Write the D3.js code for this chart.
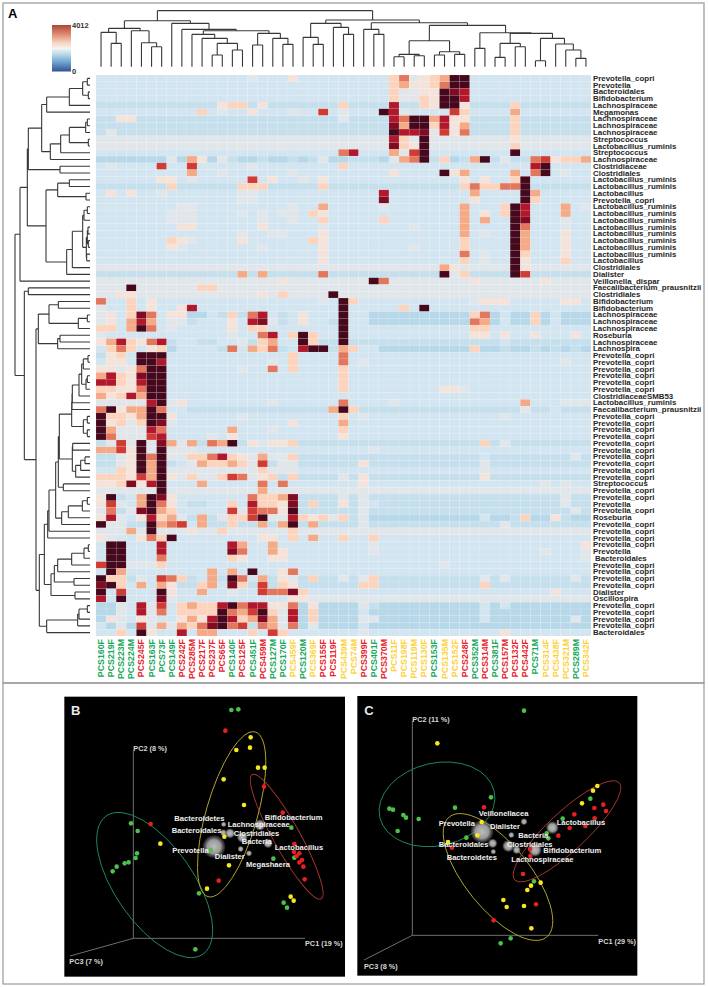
<!DOCTYPE html>
<html>
<head>
<meta charset="utf-8">
<script src="https://cdnjs.cloudflare.com/ajax/libs/d3/7.8.5/d3.min.js"></script>
<style>
  body { margin: 0; background: #fff; }
  text { font-family: "Liberation Sans", Arial, sans-serif; }
</style>
</head>
<body>
<div id="figure"></div>
<script>
// ---- heatmap data ----
const colNames = ["PCS160F","PCS219F","PCS223M","PCS224M","PCS245F","PCS163F","PCS73F","PCS149F","PCS242F","PCS285M","PCS217F","PCS237F","PCS65F","PCS140F","PCS125F","PCS451F","PCS459M","PCS127M","PCS170F","PCS459F","PCS120M","PCS369F","PCS155F","PCS119F","PCS439M","PCS74M","PCS399F","PCS401F","PCS370M","PCS11F","PCS198F","PCS119M","PCS130F","PCS153F","PCS135M","PCS152F","PCS248F","PCS352M","PCS314M","PCS381F","PCS157M","PCS132F","PCS442F","PCS71M","PCS314F","PCS438F","PCS321M","PCS289M","PCS342F"];
const colGroups = ["g","g","g","g","r","g","g","g","r","r","r","r","r","g","r","g","r","g","g","y","g","y","r","r","y","y","r","g","r","y","y","y","y","g","y","y","r","g","r","g","r","r","r","g","y","y","y","g","y"];
const groupColors = {g: "#18a85c", r: "#e8222c", y: "#fdd23c"};

const rowLabels = ["Prevotella_copri","Prevotella","Bacteroidales","Bifidobacterium","Lachnospiraceae","Megamonas","Lachnospiraceae","Lachnospiraceae","Lachnospiraceae","Streptococcus","Lactobacillus_ruminis","Streptococcus","Lachnospiraceae","Clostridiaceae","Clostridiales","Lactobacillus_ruminis","Lactobacillus_ruminis","Lactobacillus","Prevotella_copri","Lactobacillus_ruminis","Lactobacillus_ruminis","Lactobacillus_ruminis","Lactobacillus_ruminis","Lactobacillus_ruminis","Lactobacillus_ruminis","Lactobacillus_ruminis","Lactobacillus_ruminis","Lactobacillus","Clostridiales","Dialister","Veillonella_dispar","Faecalibacterium_prausnitzii","Clostridiales","Bifidobacterium","Bifidobacterium","Lachnospiraceae","Lachnospiraceae","Lachnospiraceae","Roseburia","Lachnospiraceae","Lachnospira","Prevotella_copri","Prevotella_copri","Prevotella_copri","Prevotella_copri","Prevotella_copri","Prevotella_copri","ClostridiaceaeSMB53","Lactobacillus_ruminis","Faecalibacterium_prausnitzii","Prevotella_copri","Prevotella_copri","Prevotella_copri","Prevotella_copri","Prevotella_copri","Prevotella_copri","Prevotella_copri","Prevotella_copri","Prevotella_copri","Prevotella_copri","Streptococcus","Prevotella_copri","Prevotella_copri","Prevotella","Prevotella_copri","Roseburia","Prevotella_copri","Prevotella_copri","Prevotella_copri","Prevotella_copri","Prevotella","Bacteroidales","Prevotella_copri","Prevotella_copri","Prevotella_copri","Prevotella_copri","Dialister","Oscillospira","Prevotella_copri","Prevotella_copri","Prevotella_copri","Prevotella_copri","Bacteroidales"];

const levelNames  = "abcdefghijkl".split("");
const levelValues = [1050, 1200, 1350, 1600, 1850, 2100, 2450, 2800, 3100, 3400, 3700, 4012];
const levelColors = ["#b7d8e9","#c6dfec","#d2e5f0","#e0e6ea","#f4e3da","#fcd4bd","#f5aa87","#e3775e","#d03c34","#b2182b","#7f0c22","#45081c"];

// one row per taxon: base level, then the columns that differ from it
const heatRows = [
"c 15d 19e 29f 30h 31d 32e 33f 34g 35l 36l",
"c 29f 30g 31e 32e 33f 34h 35l 36l",
"c 29f 30d 31d 32e 33e 34l 35k 36j",
"c 29f 30d 31d 32f 33e 34l 35l 36j",
"b 12e 13f 14f 16e 24f 29j 32f 33e 34l 35l 36e 41f",
"c 10f 12d 15e 19d 22i 24d 28l 29j 30d 35i 36f 41g",
"b 2e 3e 24d 29j 30h 31l 32l 33g 34j 35e 36e 41f",
"b 29k 30g 31l 32l 33f 34j 35e 36g 41f",
"b 1d 29l 30j 31j 32k 33d 34i 35e 36h 41f",
"d 29j 30f 32l 41e",
"d 29k 30f 31e 32l 41f",
"c 24h 25j 29g 30d 31i 32l 41l",
"b 0-6a 7d 8a 9g 10e 11a 12d 14a 15a 17a 18a 20a 22d 23a 24a 28a 29d 30g 31h 32l 34f 35a 37g 38l 40d 43h 44i 45e 46f 47f 48g",
"c 1d 6i 9i 15d 24f 43j 44l",
"c 9g 12d 19d 29e 34l 35e 36g 41g 43h 44l 46d",
"c 6e 7e 9d 15i 17e 20d 22e 36e 38e 41f 42l",
"b 7f 14f 15f 16f 22f 36f 37h 38f 39f 40h 41h 42l",
"c 1e 3e 6d 14d 15d 28j 37g 42l 43g",
"c 14d 15d 28k 37e 42l 43f",
"c 8d 9d 19d 22g 28d 36g 40f 41l 42j 46g 48d",
"c 7-9d 14d 16d 18d 19d 21f 22e 36g 38e 40f 41l 42j 46g",
"c 7-9d 16d 19d 22f 28f 36g 38g 41l 42k 46d",
"c 8e 9e 16e 22d 31d 36g 41l 42h 46d",
"c 14d 17d 18d 22e 36g 38d 41l 42g 46e",
"c 7f 8e 9d 14e 21f 22e 36f 41l 42g 46e",
"c 7e 8d 16d 22e 31d 36f 41l 42g 46e",
"c 22e 36h 38d 41l 42f 46e",
"c 22e 36f 38d 41l 42e 46f",
"d 34g 35e 41l 42e",
"b 14g 16g 22h 34l 35d 36f 41l 42i",
"d 18e 27l 28h 37e 44e",
"d 3l 10f 11f",
"d 2e 3e 16e 18f 23l",
"c 0h 3f 5e 22d 24l 25f 37d 38e 39e 40e 46e 47e",
"c 0d 3f 5e 8e 9j 24l 30f 32l",
"c 0d 1e 3f 4k 5h 7e 8e 9a 10a 12b 13f 14b 15h 16j 18b 20e 24l 27-36a 37f 38h 39a 41a 42a 43f 44a 46a 47a 48a",
"c 0d 1e 3g 4j 5g 7d 8d 9b 13e 15j 16k 17d 18b 20e 23b 24l 27-36a 37h 38g 39a 41a 42a 43f 44a 46a 47a 48a",
"c 0f 1f 3g 4l 5h 7d 13e 15f 16f 24l 37f 38f",
"c 0d 13d 16h 17j 19f 20l 21f 24l 37e 38e 40e 43e 47e",
"b 0e 1g 2j 3f 4e 5h 6j 8c 9c 12c 13c 14d 16f 17g 18c 19c 20l 21f 24l 40c",
"b 0c 1f 2h 3f 4c 5e 6f 7a 8-11c 13h 14c 15g 16f 17h 19c 20j 21l 22l 24g 25f 26c 27c 28-36a 37f 38a 39a 41a 42a 44a 46a 48a",
"c 0b 1e 2f 4l 5l 6l 19f 24h",
"c 1e 2e 4l 5l 6j 17d 19f 24h 26d 46d",
"c 0e 1e 2d 3e 4h 5l 6l 14d 17h 19f 24f",
"c 0g 1j 2f 3e 4k 5l 6l 24f",
"c 0j 1j 2f 3e 4j 5l 6l 24f",
"c 0f 1f 2e 3e 4h 5l 6l 24f 34e 35e 36d",
"c 0g 1e 2f 3j 4g 5l 6l",
"c 0d 1d 2d 3d 4d 5j 6l 7d 8e 17d 24h 29d 42g 46d 47d 48d",
"b 0h 1l 2e 3g 4g 5l 6h 7c 8c 23g 24l 25f 42d 45c",
"c 0l 1f 2f 3e 4g 5l 6l 7e 14d 24f 26d 40d",
"c 0l 1e 2f 3d 4f 5l 6k 7d 19e 24g",
"c 0l 1g 2d 3d 4d 5j 6h 13g 17d 24f",
"c 0l 1h 2d 3d 4d 5i 6j 11d 13e 24e",
"b 1d 2i 3d 4l 5d 6k 7g 8d 9g 11h 12g 13l 15e 16d 17e 18e 19f 38f 40d",
"c 0g 1g 2i 3e 4l 5d 6l 7-9d 27d",
"b 2d 3e 4l 5h 6l 7d 8d 9f 10f 11h 12j 13f 14e 15d 16g 17d 18d 19f 38c 47d",
"b 2d 3e 4l 5g 6l 8c 9d 10g 11f 12f 13g 14f 15d 16i 18d 19d 26e 38d",
"c 2f 3e 4l 5g 6l 7-15d 16f 17d 18d 19d 38d",
"b 0f 1f 2f 3e 4i 5g 6l 7e 8d 9f 10d 11d 12f 13i 14h 15d 16e 17f 19f 24d 26e 38e",
"c 0e 1e 2f 3k 4e 5j 6l 10g 16h 18h 26e 44d 46d",
"d 6l 16g",
"b 0e 1l 3c 4g 5l 6k 7e 8-14c 15h 16f 17f 18g 19k 24d 26d 46d",
"b 0e 1i 2d 3c 4g 5l 6h 7e 8c 11c 12c 13f 14c 15j 16f 17f 18e 19k 21f 24e 26d 27c 46d",
"b 0d 1h 3d 4k 5l 6g 7f 8-12c 13i 14d 15i 16h 17h 18e 19l 26d 47d",
"a 0e 1j 2d 3c 4e 5j 6f 7g 8d 9b 10g 11b 12d 13f 14f 15i 16l 17d 18d 19j 20f 21e 22f 23d 24f 25b 26d 38c 41b 42f 45e 46b",
"b 0l 1d 2d 5l 6g 7h 8i 9c 10g 13f 16g 18g 19l 21g 26d 40d",
"d 3g 5l 9e 12f 19f",
"c 0e 1d 4e 5h 6f 7l 16e 17e 19f 21g 24f 27f",
"c 1l 2l 6j 13j 14g 17g 27d 48e",
"c 1l 2l 6j 13k 14h 17g 18e 27d 44d 48d",
"c 1l 2l 6h 13f 14e 17e 18e 48d",
"c 0i 1l 2l 3d 4d 5d 6f 34d",
"c 1l 2g 11g 13g 15l 18e 19h",
"b 0l 1f 2f 4d 5c 6i 7h 8f 10c 11g 13l 14h 15c 16g 18e 19d 21f 24d 26d 27f 38d 40d 47d",
"b 0k 1l 2f 3c 4g 5c 6g 7e 10f 11g 12c 13k 14f 16i 18f 19e 26f 27f 38f",
"c 0l 2i 6l 7e 10g 13d 16i 17h 18h 19k 20f 45e",
"d 0j 1c 2l 3-5c 6k 8-18c 19e 20e",
"a 2d 3c 4j 5d 6i 7c 8f 9g 10f 11f 12j 13l 14h 15j 16j 17e 18e 19h 21e 26d 27b 38c 40c",
"a 2d 3c 4j 5d 6h 7c 8f 9f 10f 11f 12l 13h 14g 15i 16l 17f 18d 19j 21f 26c 38c",
"a 1e 2d 3c 4e 5d 6c 7c 8e 9g 10e 11j 12l 13j 14f 15g 16k 17g 18d 19j 21f 26d 27d 38c 47d",
"a 0c 2d 4i 5d 6g 7d 8g 9f 10h 11k 12l 13h 14i 15b 16h 17g 18d 19h 21d 26c",
"c 2f 4l 5e 8j 10g 11g 15f 17i 18f 26d 40e"
];

// dendrograms as nested [height, left, right], 0 is a leaf
const colTree = [168,
  [138,
    [115, [103, 0, [70, 0, 0]], [108, 0, [72, 0, [60, 0, 0]]]],
    [130, 0, [112, 0, [108,
      [97, 0, [85, 0, [70, [35, 0, 0], [50, 0, 0]]]],
      [100, [65, 0, 0], [85, 0, [67, 0, 0]]]]]]],
  [140,
    [130, [88, 0, [67, 0, 0]], [118, 0, [97, 0, 0]]],
    [132,
      [112, 0, [97, 0, 0]],
      [124,
        [78, [37, [30, 0, 0], [33, 0, 0]], [45, [35, 0, 0], [37, 0, 0]]],
        [102, [55, 0, 0],
          [100, [70, [28, 0, 0], [60, 0, 0]],
            [85, [18, 0, 0], [68, 0, [50, 0, [25, 0, 0]]]]]]]]]];

const rowTreeE = [55, [54, [53, [33, [25, [20, [6, 0, 0], 0], [12, [8, 0, 0], 0]], 0], 0], 0], [20, [8, 0, 0], [8, 0, 0]]];
const rowTreeF = [53, [52, 0, 0], [43, [28, [15, 0, 0], 0], 0]];
const rowTreeH = [103, [95, [92, rowTreeE, rowTreeF], [80, 0, 0]], [85, [65, [23, [8, 0, 0], 0], 0], 0]];
const rowTree = [225,
  [210,
    [188,
      [185,
        [145,
          [130, [62, [22, [8, 0, 0], [5, 0, 0]], 0], 0],
          [119, [88, [62, [13, [8, 0, 0], 0], [5, 0, 0]], 0], 0]],
        [90, 0, 0]],
      [132,
        [97, [62, 0, 0], [12, 0, 0]],
        [70, [53, [22, [18, [8, 0, 0], 0], [11, [8, [6, 0, 0], [5, 0, 0]], [10, 0, 0]]], 0], 0]]],
    0],
  [197,
    [185, 0, 0],
    [162,
      [155,
        [123, [95, 0, 0], [35, [8, 0, 0], 0]],
        [97, [90, 0, 0], 0]],
      [152,
        [137,
          [127, [123, rowTreeH, 0], 0],
          [117, [107, [97, [55, [18, [5, 0, 0], 0], 0], 0], [48, 0, 0]], [45, 0, 0]]],
        [130, [37, [33, [8, 0, 0], 0], 0], 0]]]]];

// ---- ordination data, read in the units of a 930 wide panel grid ----
const bGreen = [[574,120],[595,118],[273,460],[293,483],[291,550],[287,564],[266,577],[254,580],[230,590],[218,604],[477,670],[466,838],[731,698],[741,713],[754,473],[763,563],[700,566],[512,540]];
const bRed = [[556,182],[332,462],[536,632],[672,350],[728,428],[763,522],[762,546],[778,550],[770,558],[786,570],[778,577],[790,590],[794,628]];
const bYellow = [[632,202],[589,240],[630,233],[654,293],[674,293],[551,328],[612,405],[361,521],[553,500],[567,586],[501,656],[752,680],[761,692]];
const bSpheres = [[522,530,34],[551,463,8],[550,488,10],[570,490,15],[607,502,16],[660,465,17],[684,520,14],[602,537,9],[627,550,9]];
const bTaxa = [["Bacteroidetes",403,452],["Lachnospiraceae",563,472],["Bifidobacterium",674,450],["Bacteroidales",395,490],["Clostridiales",581,498],["Bacteria",605,521],["Lactobacillus",704,539],["Prevotella",397,548],["Dialister",524,568],["Megashaera",618,590]];
const bEllipses = [[344,645,253,117,55,"#1f8a5c"],[575,433,257,77,-74,"#b3a42e"],[740,500,213,40,61,"#a8382e"]];
const bAxes = {origin: [280,805], pc1: [795,805], pc2: [280,240], pc3: [90,858]};
const bAxisLabels = [["PC2 (8 %)",280,243],["PC1 (19 %)",795,829],["PC3 (7 %)",88,883]];

const cGreen = [[522,122],[423,382],[315,413],[118,416],[129,419],[160,435],[168,443],[206,447],[143,483],[349,503],[552,634],[482,805],[452,820],[638,446],[721,386],[590,490],[595,505]];
const cRed = [[402,412],[306,533],[431,751],[558,703],[519,612],[540,537],[541,558],[625,497],[659,474],[673,433],[706,468],[733,414],[760,404],[768,423],[734,445]];
const cYellow = [[262,220],[395,456],[382,496],[294,516],[460,690],[470,711],[522,708],[544,775],[532,660],[543,647],[572,638],[696,400],[729,362],[742,348]];
const cSpheres = [[396,485,34],[428,520,14],[430,545,8],[522,455,10],[484,495,9],[475,528,18],[500,540,12],[555,540,20],[607,473,19]];
const cTaxa = [["Veillonellacea",386,439],["Prevotella",266,467],["Dialister",420,477],["Lactobacillus",620,465],["Bacteria",505,504],["Bacteroidales",266,532],["Clostridiales",471,532],["Bifidobacterium",580,550],["Bacteroidetes",290,570],["Lachnospiraceae",484,577]];
const cEllipses = [[261,403,176,124,-13,"#1f8a5c"],[444,621,232,97,51,"#b3a42e"],[651,484,214,58,-43,"#a8382e"]];
const cAxes = {origin: [187,796], pc1: [745,796], pc2: [187,152], pc3: [42,870]};
const cAxisLabels = [["PC2 (11 %)",187,157],["PC1 (29 %)",745,821],["PC3 (8 %)",42,896]];

const svg = d3.select("#figure").append("svg")
    .attr("width", 708)
    .attr("height", 987)
    .style("display", "block");

// outer frames
svg.append("rect").attr("x", 3).attr("y", 3).attr("width", 701).attr("height", 680)
    .attr("fill", "none").attr("stroke", "#aaa").attr("stroke-width", 1.5);
svg.append("rect").attr("x", 3).attr("y", 683).attr("width", 701).attr("height", 301)
    .attr("fill", "none").attr("stroke", "#999").attr("stroke-width", 1.2);

svg.append("text").attr("x", 8).attr("y", 18)
    .attr("font-size", 13).attr("font-weight", "bold").text("A");

// ---- heatmap ----
const x = d3.scaleBand().domain(d3.range(colNames.length)).range([96, 591]);
const y = d3.scaleBand().domain(d3.range(rowLabels.length)).range([75, 636]);
const color = d3.scaleLinear().domain(levelValues).range(levelColors);
const levelValue = d3.scaleOrdinal(levelNames, levelValues);

function expandRow(spec, row) {
    var parts = spec.split(" ");
    var values = colNames.map(() => levelValue(parts[0]));
    parts.slice(1).forEach(function(p) {
        var m = p.match(/^(\d+)(?:-(\d+))?([a-l])$/);
        var end = m[2] ? +m[2] : +m[1];
        for (var c = +m[1]; c <= end; c++) values[c] = levelValue(m[3]);
    });
    return values.map((v, col) => ({row: row, col: col, value: v}));
}

svg.append("g").selectAll("rect")
    .data(heatRows.flatMap(expandRow))
    .enter()
    .append("rect")
    .attr("x", d => x(d.col))
    .attr("y", d => y(d.row))
    .attr("width", x.bandwidth())
    .attr("height", y.bandwidth())
    .attr("fill", d => color(d.value))
    .attr("stroke", "#fff")
    .attr("stroke-opacity", 0.16)
    .attr("stroke-width", 0.5);

// row labels
const rowAxis = svg.append("g")
    .attr("transform", "translate(591,0)")
    .call(d3.axisRight(y).tickSize(0).tickPadding(2).tickFormat(i => rowLabels[i]));
rowAxis.select(".domain").remove();
rowAxis.selectAll("text")
    .attr("font-size", 7.9)
    .attr("font-weight", "bold")
    .attr("fill", "#262626")
    .attr("dx", (d) => d == 71 ? 2 : 0);

// column labels
const colAxis = svg.append("g")
    .attr("transform", "translate(0,636)")
    .call(d3.axisBottom(x).tickSize(0).tickFormat(i => colNames[i]));
colAxis.select(".domain").remove();
colAxis.selectAll("text")
    .attr("font-size", 8.8)
    .attr("font-weight", "bold")
    .attr("fill", d => groupColors[colGroups[d]])
    .attr("text-anchor", "end")
    .attr("transform", "translate(3,3) rotate(-90)")
    .attr("x", 0)
    .attr("y", 0)
    .attr("dy", 0);

// dendrograms, leaves take consecutive positions
function drawTree(tree, leafPos, heightPos, horizontal) {
    var next = 0;
    var path = d3.path();
    function link(a0, h0, a1, h1) {
        if (horizontal) { path.moveTo(heightPos(h0), a0); path.lineTo(heightPos(h1), a1); }
        else { path.moveTo(a0, heightPos(h0)); path.lineTo(a1, heightPos(h1)); }
    }
    function walk(node) {
        if (node === 0) return {pos: leafPos(next++), h: 0};
        var a = walk(node[1]);
        var b = walk(node[2]);
        link(a.pos, a.h, a.pos, node[0]);
        link(a.pos, node[0], b.pos, node[0]);
        link(b.pos, b.h, b.pos, node[0]);
        return {pos: (a.pos + b.pos) / 2, h: node[0]};
    }
    walk(tree);
    return path.toString();
}

const colHeight = d3.scaleLinear().domain([0, 200]).range([66.7, 0]);
const rowHeight = d3.scaleLinear().domain([0, 240]).range([90, 10]);

svg.append("path")
    .attr("d", drawTree(colTree, i => x(i) + x.bandwidth() / 2, colHeight, false))
    .attr("fill", "none").attr("stroke", "#383838").attr("stroke-width", 1.1);
svg.append("path")
    .attr("d", drawTree(rowTree, i => y(i) + y.bandwidth() / 2, rowHeight, true))
    .attr("fill", "none").attr("stroke", "#383838").attr("stroke-width", 1.1);

// colour key
const defs = svg.append("defs");
const keyGradient = defs.append("linearGradient").attr("id", "key")
    .attr("x1", 0).attr("y1", 1).attr("x2", 0).attr("y2", 0);
[[0, "#33528f"], [0.2, "#6ea3cf"], [0.38, "#bcdcec"], [0.5, "#f6f4f0"], [0.62, "#f8d3c0"], [0.8, "#e08b70"], [1, "#a9483a"]]
    .forEach(s => keyGradient.append("stop").attr("offset", s[0]).attr("stop-color", s[1]));

const keyScale = d3.scaleLinear().domain([0, 4012]).range([71.5, 25]);
svg.append("rect")
    .attr("x", 52).attr("y", keyScale(4012))
    .attr("width", 19).attr("height", keyScale(0) - keyScale(4012))
    .attr("fill", "url(#key)");
const keyAxis = svg.append("g")
    .attr("transform", "translate(71,0)")
    .call(d3.axisRight(keyScale).tickValues([0, 4012]).tickSize(0).tickPadding(1).tickFormat(d3.format("d")));
keyAxis.select(".domain").remove();
keyAxis.selectAll("text").attr("font-size", 7.5).attr("font-weight", "bold").attr("fill", "#333");

// ---- ordination panels ----
const sphereGradient = defs.append("radialGradient").attr("id", "sphere");
[[0, "#bdbdbd", 1], [0.6, "#9a9a9a", 1], [1, "#6a6a6a", 0.25]]
    .forEach(s => sphereGradient.append("stop").attr("offset", s[0]).attr("stop-color", s[1]).attr("stop-opacity", s[2]));

function drawPanel(left, top, frame, letter, axes, axisLabels, ellipses, spheres, green, red, yellow, taxa) {
    var px = d3.scaleLinear().domain([0, 930]).range([left, left + 310]);
    var py = d3.scaleLinear().domain([0, 930]).range([top, top + 310]);
    var len = d3.scaleLinear().domain([0, 930]).range([0, 310]);

    var g = svg.append("g");
    g.append("rect")
        .attr("x", px(frame[0])).attr("y", py(frame[1]))
        .attr("width", len(frame[2] - frame[0])).attr("height", len(frame[3] - frame[1]))
        .attr("fill", "#000");

    g.selectAll(".axis").data([axes.pc1, axes.pc2, axes.pc3]).enter().append("line")
        .attr("x1", px(axes.origin[0])).attr("y1", py(axes.origin[1]))
        .attr("x2", d => px(d[0])).attr("y2", d => py(d[1]))
        .attr("stroke", "#8c8c8c").attr("stroke-width", 0.8);

    g.selectAll(".ellipse").data(ellipses).enter().append("ellipse")
        .attr("rx", d => len(d[2])).attr("ry", d => len(d[3]))
        .attr("transform", d => "translate(" + px(d[0]) + "," + py(d[1]) + ") rotate(" + d[4] + ")")
        .attr("fill", "none").attr("stroke", d => d[5]).attr("stroke-width", 0.9);

    g.selectAll(".sphere").data(spheres).enter().append("circle")
        .attr("cx", d => px(d[0])).attr("cy", d => py(d[1])).attr("r", d => len(d[2]))
        .attr("fill", "url(#sphere)");

    [[green, "#4cc24a"], [red, "#ea1f1f"], [yellow, "#f7e81e"]].forEach(function(set) {
        g.selectAll(".dot").data(set[0], (d, i) => i).enter().append("circle")
            .attr("cx", d => px(d[0])).attr("cy", d => py(d[1])).attr("r", 2.3)
            .attr("fill", set[1]);
    });

    g.selectAll(".taxon").data(taxa).enter().append("text")
        .attr("x", d => px(d[1])).attr("y", d => py(d[2]))
        .attr("font-size", 7.6).attr("font-weight", "bold").attr("fill", "#f0f0f0")
        .text(d => d[0]);

    g.selectAll(".axislabel").data(axisLabels).enter().append("text")
        .attr("x", d => px(d[1])).attr("y", d => py(d[2]))
        .attr("font-size", 7.3).attr("font-weight", "bold").attr("fill", "#d8d8d8")
        .text(d => d[0]);

    g.append("text")
        .attr("x", px(letter[1])).attr("y", py(letter[2]))
        .attr("font-size", 13).attr("font-weight", "bold").attr("fill", "#e8e8e8")
        .text(letter[0]);
}

drawPanel(40, 670, [73, 80, 915, 920], ["B", 93, 135], bAxes, bAxisLabels, bEllipses, bSpheres, bGreen, bRed, bYellow, bTaxa);
drawPanel(350, 670, [22, 78, 862, 917], ["C", 43, 135], cAxes, cAxisLabels, cEllipses, cSpheres, cGreen, cRed, cYellow, cTaxa);
</script>
</body>
</html>
